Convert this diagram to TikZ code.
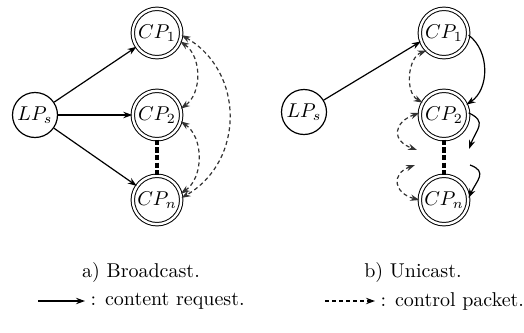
\documentclass[tikz,border=0pt]{standalone}
\usepackage{tikz}
\usetikzlibrary{arrows.meta, positioning, calc}

\begin{document}
\begin{tikzpicture}[
  x=0.5pt, y=-0.5pt,
  lpnode/.style={draw, circle, minimum size=22.5pt, inner sep=0pt, line width=0.6pt},
  cpnode/.style={draw, circle, double, double distance=1.2pt, line width=0.5pt, minimum size=24.2pt, inner sep=0pt},
  req/.style={-{Stealth[length=4.5pt, width=3.2pt]}, line width=0.6pt},
  ctrl/.style={{Stealth[length=4.5pt, width=3.2pt]}-{Stealth[length=4.5pt, width=3.2pt]}, line width=0.6pt, dash pattern=on 2pt off 1.5pt, black!80},
  ctrlone/.style={-{Stealth[length=4.5pt, width=3.2pt]}, line width=0.6pt, dash pattern=on 2pt off 1.5pt},
  gapline/.style={line width=1.6pt, dash pattern=on 2.6pt off 1.2pt}
]
  \useasboundingbox (0,0) rectangle (524,332);

  % a) broadcast
  \node[lpnode] (lpa) at (35,115) {$LP_s$};
  \node[cpnode] (cpa1) at (157,33) {$CP_1$};
  \node[cpnode] (cpa2) at (157,115) {$CP_2$};
  \node[cpnode] (cpan) at (157,200) {$CP_n$};
  \draw[req] (lpa) -- (cpa1);
  \draw[req] (lpa) -- (cpa2);
  \draw[req] (lpa) -- (cpan);
  \draw[gapline] (cpa2.south) -- (cpan.north);
  \draw[ctrl] (cpa1.-20) to[bend left=55] (cpa2.15);
  \draw[ctrl] (cpa2.-15) to[bend left=55] (cpan.15);
  \draw[ctrl] (cpa1.-5) to[bend left=60, looseness=1.15] (cpan.5);
  \node (capa) at (141,272) {a) Broadcast.};

  % b) unicast
  \node[lpnode] (lpb) at (304,112) {$LP_s$};
  \node[cpnode] (cpb1) at (444,33) {$CP_1$};
  \node[cpnode] (cpb2) at (444,115) {$CP_2$};
  \node[cpnode] (cpbn) at (444,200) {$CP_n$};
  \coordinate (gapr1) at (469,149);
  \coordinate (gapr2) at (470,165);
  \coordinate (gapl1) at (417,150);
  \coordinate (gapl2) at (415,165);
  \draw[req] (lpb) -- (cpb1.200);
  \draw[gapline] (cpb2.south) -- (cpbn.north);
  \draw[req] (cpb1.-5) to[bend left=55] (cpb2.25);
  \draw[req] (cpb2.5) to[out=-25, in=70, looseness=1.5] (gapr1);
  \draw[req] (gapr2) to[out=-20, in=65, looseness=1.5] (cpbn.5);
  \draw[ctrl] (cpb1.225) to[bend right=65] (cpb2.150);
  \draw[ctrl] (cpb2.175) to[out=200, in=160, looseness=1.9] (gapl1);
  \draw[ctrl] (gapl2) to[out=200, in=165, looseness=1.9] (cpbn.180);
  \node (capb) at (413,272) {b) Unicast.};

  % legend
  \coordinate (lega) at (38,301);
  \coordinate (legb) at (85,301);
  \coordinate (legc) at (325,301);
  \coordinate (legd) at (375,301);
  \draw[req] (lega) -- (legb) node[right, inner sep=2.5pt] {: content request.};
  \draw[ctrlone] (legc) -- (legd) node[right, inner sep=2.5pt] {: control packet.};
\end{tikzpicture}
\end{document}
